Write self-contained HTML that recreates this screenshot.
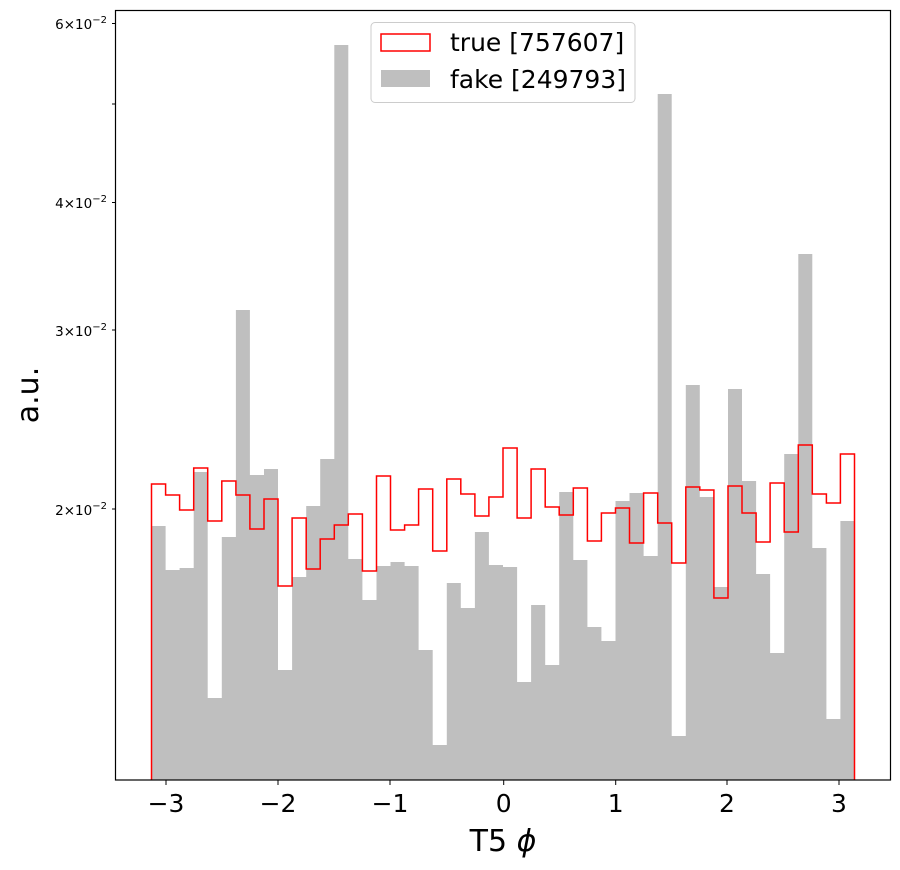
<!DOCTYPE html>
<html><head><meta charset="utf-8"><style>
html,body{margin:0;padding:0;background:#fff;}
svg{display:block;font-family:"DejaVu Sans","Liberation Sans",sans-serif;}
</style></head><body>
<svg width="900" height="870" viewBox="0 0 900 870" xmlns="http://www.w3.org/2000/svg">
<rect width="900" height="870" fill="#fff"/>
<path fill="#bfbfbf" d="M151.5,780 V526 H165.6 V570 H179.6 V568 H193.7 V472 H207.7 V698 H221.8 V537 H235.9 V310 H249.9 V475 H264.0 V469 H278.0 V670 H292.1 V577 H306.2 V506 H320.2 V459 H334.3 V45 H348.3 V559 H362.4 V600 H376.5 V566 H390.5 V562 H404.6 V566 H418.6 V650 H432.7 V745 H446.8 V583 H460.8 V608 H474.9 V532 H488.9 V565 H503.0 V567 H517.1 V682 H531.1 V605 H545.2 V665 H559.2 V492 H573.3 V560 H587.4 V627 H601.4 V641 H615.5 V501 H629.5 V493 H643.6 V556 H657.7 V94 H671.7 V736 H685.8 V385 H699.8 V497 H713.9 V587 H728.0 V389 H742.0 V481 H756.1 V574 H770.1 V653 H784.2 V454 H798.3 V254 H812.3 V548 H826.4 V719 H840.4 V521 H854.5 V780 Z"/>
<path fill="none" stroke="#ff0000" stroke-width="1.5" d="M151.5,780 V484 H165.6 V495 H179.6 V510 H193.7 V468 H207.7 V521 H221.8 V481 H235.9 V495 H249.9 V529 H264.0 V499 H278.0 V586 H292.1 V518 H306.2 V569 H320.2 V539 H334.3 V525 H348.3 V514 H362.4 V571 H376.5 V476 H390.5 V530 H404.6 V525 H418.6 V489 H432.7 V551 H446.8 V479 H460.8 V494 H474.9 V516 H488.9 V497 H503.0 V448 H517.1 V518 H531.1 V469 H545.2 V507 H559.2 V515 H573.3 V488 H587.4 V541 H601.4 V513 H615.5 V508 H629.5 V543 H643.6 V493 H657.7 V523 H671.7 V563 H685.8 V487 H699.8 V490 H713.9 V598 H728.0 V486 H742.0 V513 H756.1 V542 H770.1 V483 H784.2 V532 H798.3 V445 H812.3 V494 H826.4 V503 H840.4 V454 H854.5 V780"/>
<rect x="115.5" y="10.5" width="775" height="769.5" fill="none" stroke="#000" stroke-width="1.2"/>
<g stroke="#000" stroke-width="1">
<line x1="166" y1="780" x2="166" y2="785"/>
<line x1="278" y1="780" x2="278" y2="785"/>
<line x1="390" y1="780" x2="390" y2="785"/>
<line x1="503.7" y1="780" x2="503.7" y2="785"/>
<line x1="615.7" y1="780" x2="615.7" y2="785"/>
<line x1="727" y1="780" x2="727" y2="785"/>
<line x1="839" y1="780" x2="839" y2="785"/>
<line x1="112" y1="23.5" x2="115.5" y2="23.5"/>
<line x1="112" y1="104" x2="115.5" y2="104"/>
<line x1="112" y1="202.5" x2="115.5" y2="202.5"/>
<line x1="112" y1="330" x2="115.5" y2="330"/>
<line x1="112" y1="509" x2="115.5" y2="509"/>
</g>
<g font-size="25" text-anchor="middle" fill="#000">
<text x="166" y="812">−3</text>
<text x="278" y="812">−2</text>
<text x="390" y="812">−1</text>
<text x="503.7" y="812">0</text>
<text x="615.7" y="812">1</text>
<text x="727" y="812">2</text>
<text x="839" y="812">3</text>
</g>
<g font-size="13.5" text-anchor="end" fill="#000">
<text x="107" y="29">6×10<tspan font-size="10" dy="-6">−2</tspan></text>
<text x="107" y="208">4×10<tspan font-size="10" dy="-6">−2</tspan></text>
<text x="107" y="336">3×10<tspan font-size="10" dy="-6">−2</tspan></text>
<text x="107" y="515">2×10<tspan font-size="10" dy="-6">−2</tspan></text>
</g>
<text x="503" y="851" font-size="30" text-anchor="middle">T5 <tspan font-style="italic">ϕ</tspan></text>
<text transform="translate(38,395) rotate(-90)" font-size="30" text-anchor="middle">a.u.</text>
<rect x="371" y="22.5" width="264" height="80" rx="4" fill="#fff" stroke="#ccc" stroke-width="1"/>
<rect x="381" y="34" width="49" height="17" fill="none" stroke="#ff0000" stroke-width="1.5"/>
<rect x="381" y="70" width="49" height="17" fill="#bfbfbf"/>
<text x="450" y="51" font-size="25">true [757607]</text>
<text x="450" y="88" font-size="25">fake [249793]</text>
</svg>
</body></html>
